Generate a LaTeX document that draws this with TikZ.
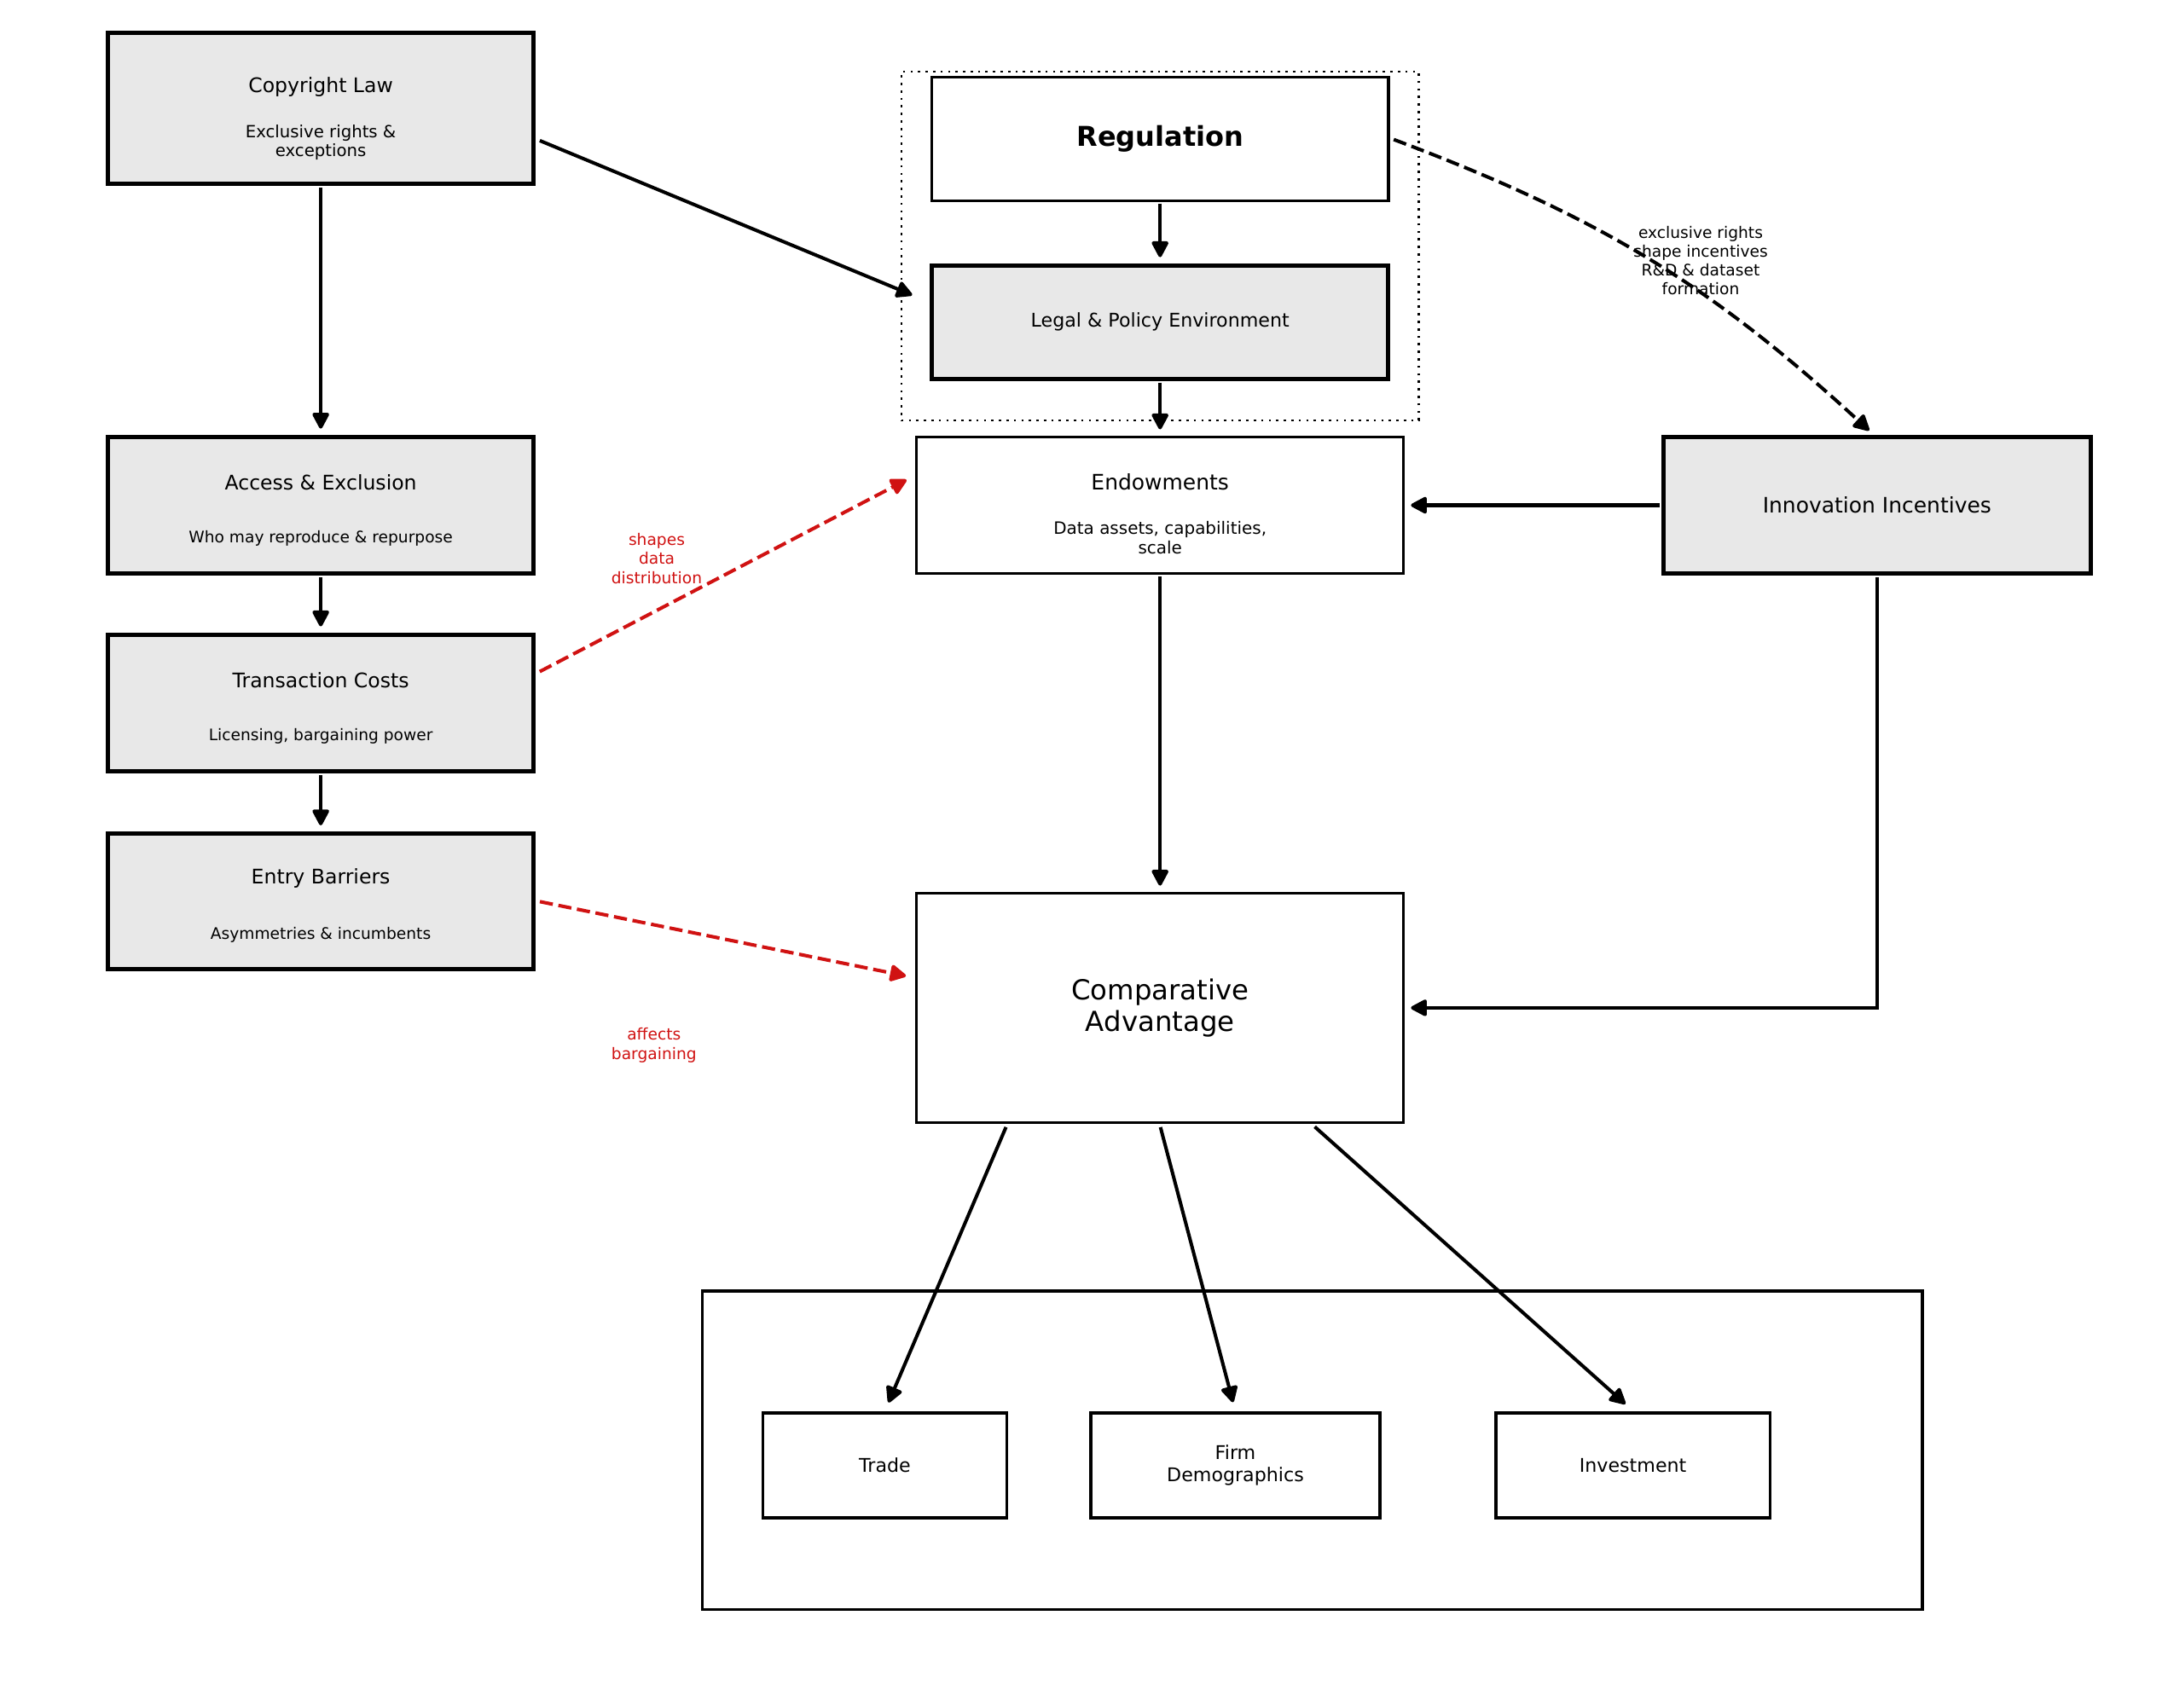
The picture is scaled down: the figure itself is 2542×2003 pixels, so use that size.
\documentclass[tikz,border=0pt]{standalone}
\usepackage{fontspec}
\setmainfont{DejaVu Sans}
\usetikzlibrary{arrows.meta,calc}
\definecolor{boxgray}{RGB}{232,232,232}
\definecolor{redarr}{RGB}{208,18,18}
\begin{document}
\begin{tikzpicture}[x=0.01cm,y=-0.01cm,
  gbox/.style={draw, fill=boxgray, line width=1.45pt, inner sep=0, rectangle},
  wbox/.style={draw, fill=white, line width=0.95pt, inner sep=0, rectangle},
  grpbox/.style={draw, line width=0.75pt, dash pattern=on 0.75pt off 1.75pt, inner sep=0, rectangle},
  txt/.style={align=center, inner sep=0},
  arr/.style={line width=1.15pt, -{Triangle[length=6pt,width=6pt,round]}, shorten >=2pt, shorten <=0.5pt},
  darr/.style={arr, dash pattern=on 4.4pt off 1.9pt},
  rarr/.style={darr, draw=redarr}]
\useasboundingbox (0,0) rectangle (2542,2003);

% group and outer frames
\node[grpbox, minimum width=6.064cm, minimum height=4.085cm] (grp) at (1360.2,288.5) {};
\node[wbox, minimum width=14.299cm, minimum height=3.729cm] (outer) at (1538.6,1700.7) {};

% left column
\node[gbox, minimum width=4.99cm, minimum height=1.77cm] (cl) at (376.1,127.2) {};
\node[txt, font=\fontsize{6.7}{8}\selectfont] (clt) at ($(cl.center)+(0,-25)$) {Copyright Law};
\node[txt, font=\fontsize{5.6}{6.3}\selectfont] (cls) at ($(cl.center)+(0,40)$) {Exclusive rights \&\\exceptions};

\node[gbox, minimum width=4.99cm, minimum height=1.605cm] (ae) at (376.1,592.5) {};
\node[txt, font=\fontsize{6.7}{8}\selectfont] (aet) at ($(ae.center)+(0,-27)$) {Access \& Exclusion};
\node[txt, font=\fontsize{5.3}{6.3}\selectfont] (aes) at ($(ae.center)+(0,39)$) {Who may reproduce \& repurpose};

\node[gbox, minimum width=4.99cm, minimum height=1.605cm] (tc) at (376.1,824.4) {};
\node[txt, font=\fontsize{6.7}{8}\selectfont] (tct) at ($(tc.center)+(0,-27)$) {Transaction Costs};
\node[txt, font=\fontsize{5.3}{6.3}\selectfont] (tcs) at ($(tc.center)+(0,39)$) {Licensing, bargaining power};

\node[gbox, minimum width=4.99cm, minimum height=1.59cm] (eb) at (376.1,1057) {};
\node[txt, font=\fontsize{6.7}{8}\selectfont] (ebt) at ($(eb.center)+(0,-27)$) {Entry Barriers};
\node[txt, font=\fontsize{5.3}{6.3}\selectfont] (ebs) at ($(eb.center)+(0,39)$) {Asymmetries \& incumbents};

% centre column
\node[wbox, minimum width=5.35cm, minimum height=1.443cm, font=\bfseries\fontsize{9.1}{10.6}\selectfont] (reg) at (1360.2,163) {Regulation};
\node[gbox, minimum width=5.35cm, minimum height=1.33cm, font=\fontsize{6.3}{7.4}\selectfont] (lp) at (1360.2,377.7) {Legal \& Policy Environment};

\node[wbox, minimum width=5.706cm, minimum height=1.605cm] (end) at (1360.2,592.5) {};
\node[txt, font=\fontsize{7.1}{8.3}\selectfont] (endt) at ($(end.center)+(0,-27)$) {Endowments};
\node[txt, font=\fontsize{5.67}{6.45}\selectfont] (ends) at ($(end.center)+(0,38)$) {Data assets, capabilities,\\scale};

\node[gbox, minimum width=5.01cm, minimum height=1.605cm, font=\fontsize{7.1}{8.3}\selectfont] (inn) at (2200.8,592.5) {Innovation Incentives};

\node[wbox, minimum width=5.706cm, minimum height=2.691cm, align=center, font=\fontsize{9.2}{10.5}\selectfont] (ca) at (1360.2,1181.9) {Comparative\\Advantage};

% outcomes
\node[wbox, minimum width=2.853cm, minimum height=1.232cm, font=\fontsize{6.3}{7.4}\selectfont] (tr) at (1037.5,1718.5) {Trade};
\node[wbox, minimum width=3.388cm, minimum height=1.232cm, align=center, font=\fontsize{6.3}{7.4}\selectfont] (fd) at (1448.5,1718.5) {Firm\\Demographics};
\node[wbox, minimum width=3.21cm, minimum height=1.232cm, font=\fontsize{6.3}{7.4}\selectfont] (inv) at (1914.6,1718.5) {Investment};

% labels
\node[txt, font=\fontsize{5.3}{6.25}\selectfont] (lblx) at (1994,305.6) {exclusive rights\\shape incentives\\R\&D \& dataset\\formation};
\node[txt, text=redarr, font=\fontsize{5.3}{6.45}\selectfont] (lbls) at (770,655) {shapes\\data\\distribution};
\node[txt, text=redarr, font=\fontsize{5.3}{6.45}\selectfont] (lbla) at (766.8,1225.6) {affects\\bargaining};

% connectors
\draw[arr] (cl.south) -- (ae.north);
\draw[arr] (ae.south) -- (tc.north);
\draw[arr] (tc.south) -- (eb.north);
\draw[arr] ($(cl.east)+(3,37)$) -- ($(lp.west)+(-14,-29)$);
\draw[arr] (reg.south) -- (lp.north);
\draw[arr] (lp.south) -- (end.north);
\draw[darr] ($(reg.east)+(3,0)$) to[bend left=11] ($(inn.north)+(-4,0)$);
\draw[arr] (inn.west) -- (end.east);
\draw[arr] (end.south) -- (ca.north);
\draw[arr] (inn.south) |- (ca.east);
\draw[rarr] ($(tc.east)+(3,-36)$) -- ($(end.west)+(-4,-33)$);
\draw[rarr] ($(eb.east)+(3,0)$) -- ($(ca.west)+(-4,-36)$);
\draw[arr] ($(ca.south)+(-180,2)$) -- ($(tr.north)+(1.5,-4)$);
\draw[arr] ($(ca.south)+(0,2)$) -- ($(fd.north)+(-1,-4)$);
\draw[arr] ($(ca.south)+(180,2)$) -- ($(inv.north)+(-3.6,-4)$);
\end{tikzpicture}
\end{document}
